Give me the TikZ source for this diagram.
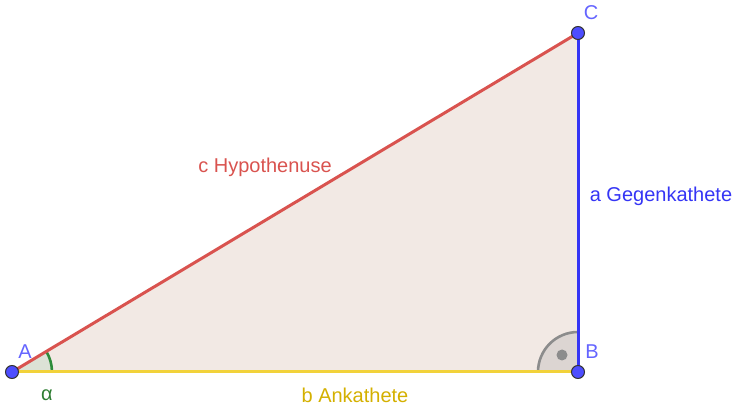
\documentclass[tikz,border=0pt]{standalone}
\usepackage{fontspec}
\setmainfont{Liberation Sans}
\usetikzlibrary{calc}
\definecolor{ggred}{HTML}{D9534F}
\definecolor{ggblue}{HTML}{3535F5}
\definecolor{ggyellow}{HTML}{F2D23A}
\definecolor{ggfill}{HTML}{F2E9E4}
\definecolor{ggpt}{HTML}{4D4DFF}
\definecolor{gglab}{HTML}{6464FF}
\definecolor{gggreen}{HTML}{2E8B3A}
\definecolor{ggalpha}{HTML}{DCE2D6}
\definecolor{ggright}{HTML}{DCD5D2}
\definecolor{gglabgreen}{HTML}{2E7D32}
\definecolor{gggold}{HTML}{D4B000}
\begin{document}
\begin{tikzpicture}[x=1pt,y=1pt,
  pt/.style={circle,fill=ggpt,draw=black!80,line width=1pt,inner sep=0pt,minimum size=13pt},
  lab/.style={font=\fontsize{20}{20}\selectfont},
  side/.style={line width=3pt}]
\useasboundingbox (0,0) rectangle (740,410);
\coordinate (A) at (12,38);
\coordinate (B) at (578,38);
\coordinate (C) at (578,377);
\fill[ggfill] (A) -- (B) -- (C) -- cycle;
% angle alpha
\fill[ggalpha] (A) -- ++(40,0) arc[start angle=0,end angle=30.9,radius=40] -- cycle;
\draw[gggreen,line width=2.6pt] ($(A)+(40,0)$) arc[start angle=0,end angle=30.9,radius=40];
% right angle
\fill[ggright] (B) -- ++(-40,0) arc[start angle=180,end angle=90,radius=40] -- cycle;
\draw[black!45,line width=2.6pt] ($(B)+(-40,0)$) arc[start angle=180,end angle=90,radius=40];
\fill[black!45] ($(B)+(-16,17)$) circle (5.5);
\draw[side,ggyellow] (A) -- (B);
\draw[side,ggblue] (B) -- (C);
\draw[side,ggred] (A) -- (C);
\node[pt] (pA) at (A) {};
\node[pt] (pB) at (B) {};
\node[pt] (pC) at (C) {};
\node[lab,text=gglab] (lA) at (25,58) {A};
\node[lab,text=gglab] (lB) at (592,58) {B};
\node[lab,text=gglab] (lC) at (591,397) {C};
\node[lab,text=ggred] (lc) at (265,243) {c Hypothenuse};
\node[lab,text=ggblue] (la) at (661,214) {a Gegenkathete};
\node[lab,text=gggold] (lb) at (355,15) {b Ankathete};
\node[lab,text=gglabgreen] (lal) at (47,15) {α};
\end{tikzpicture}
\end{document}
